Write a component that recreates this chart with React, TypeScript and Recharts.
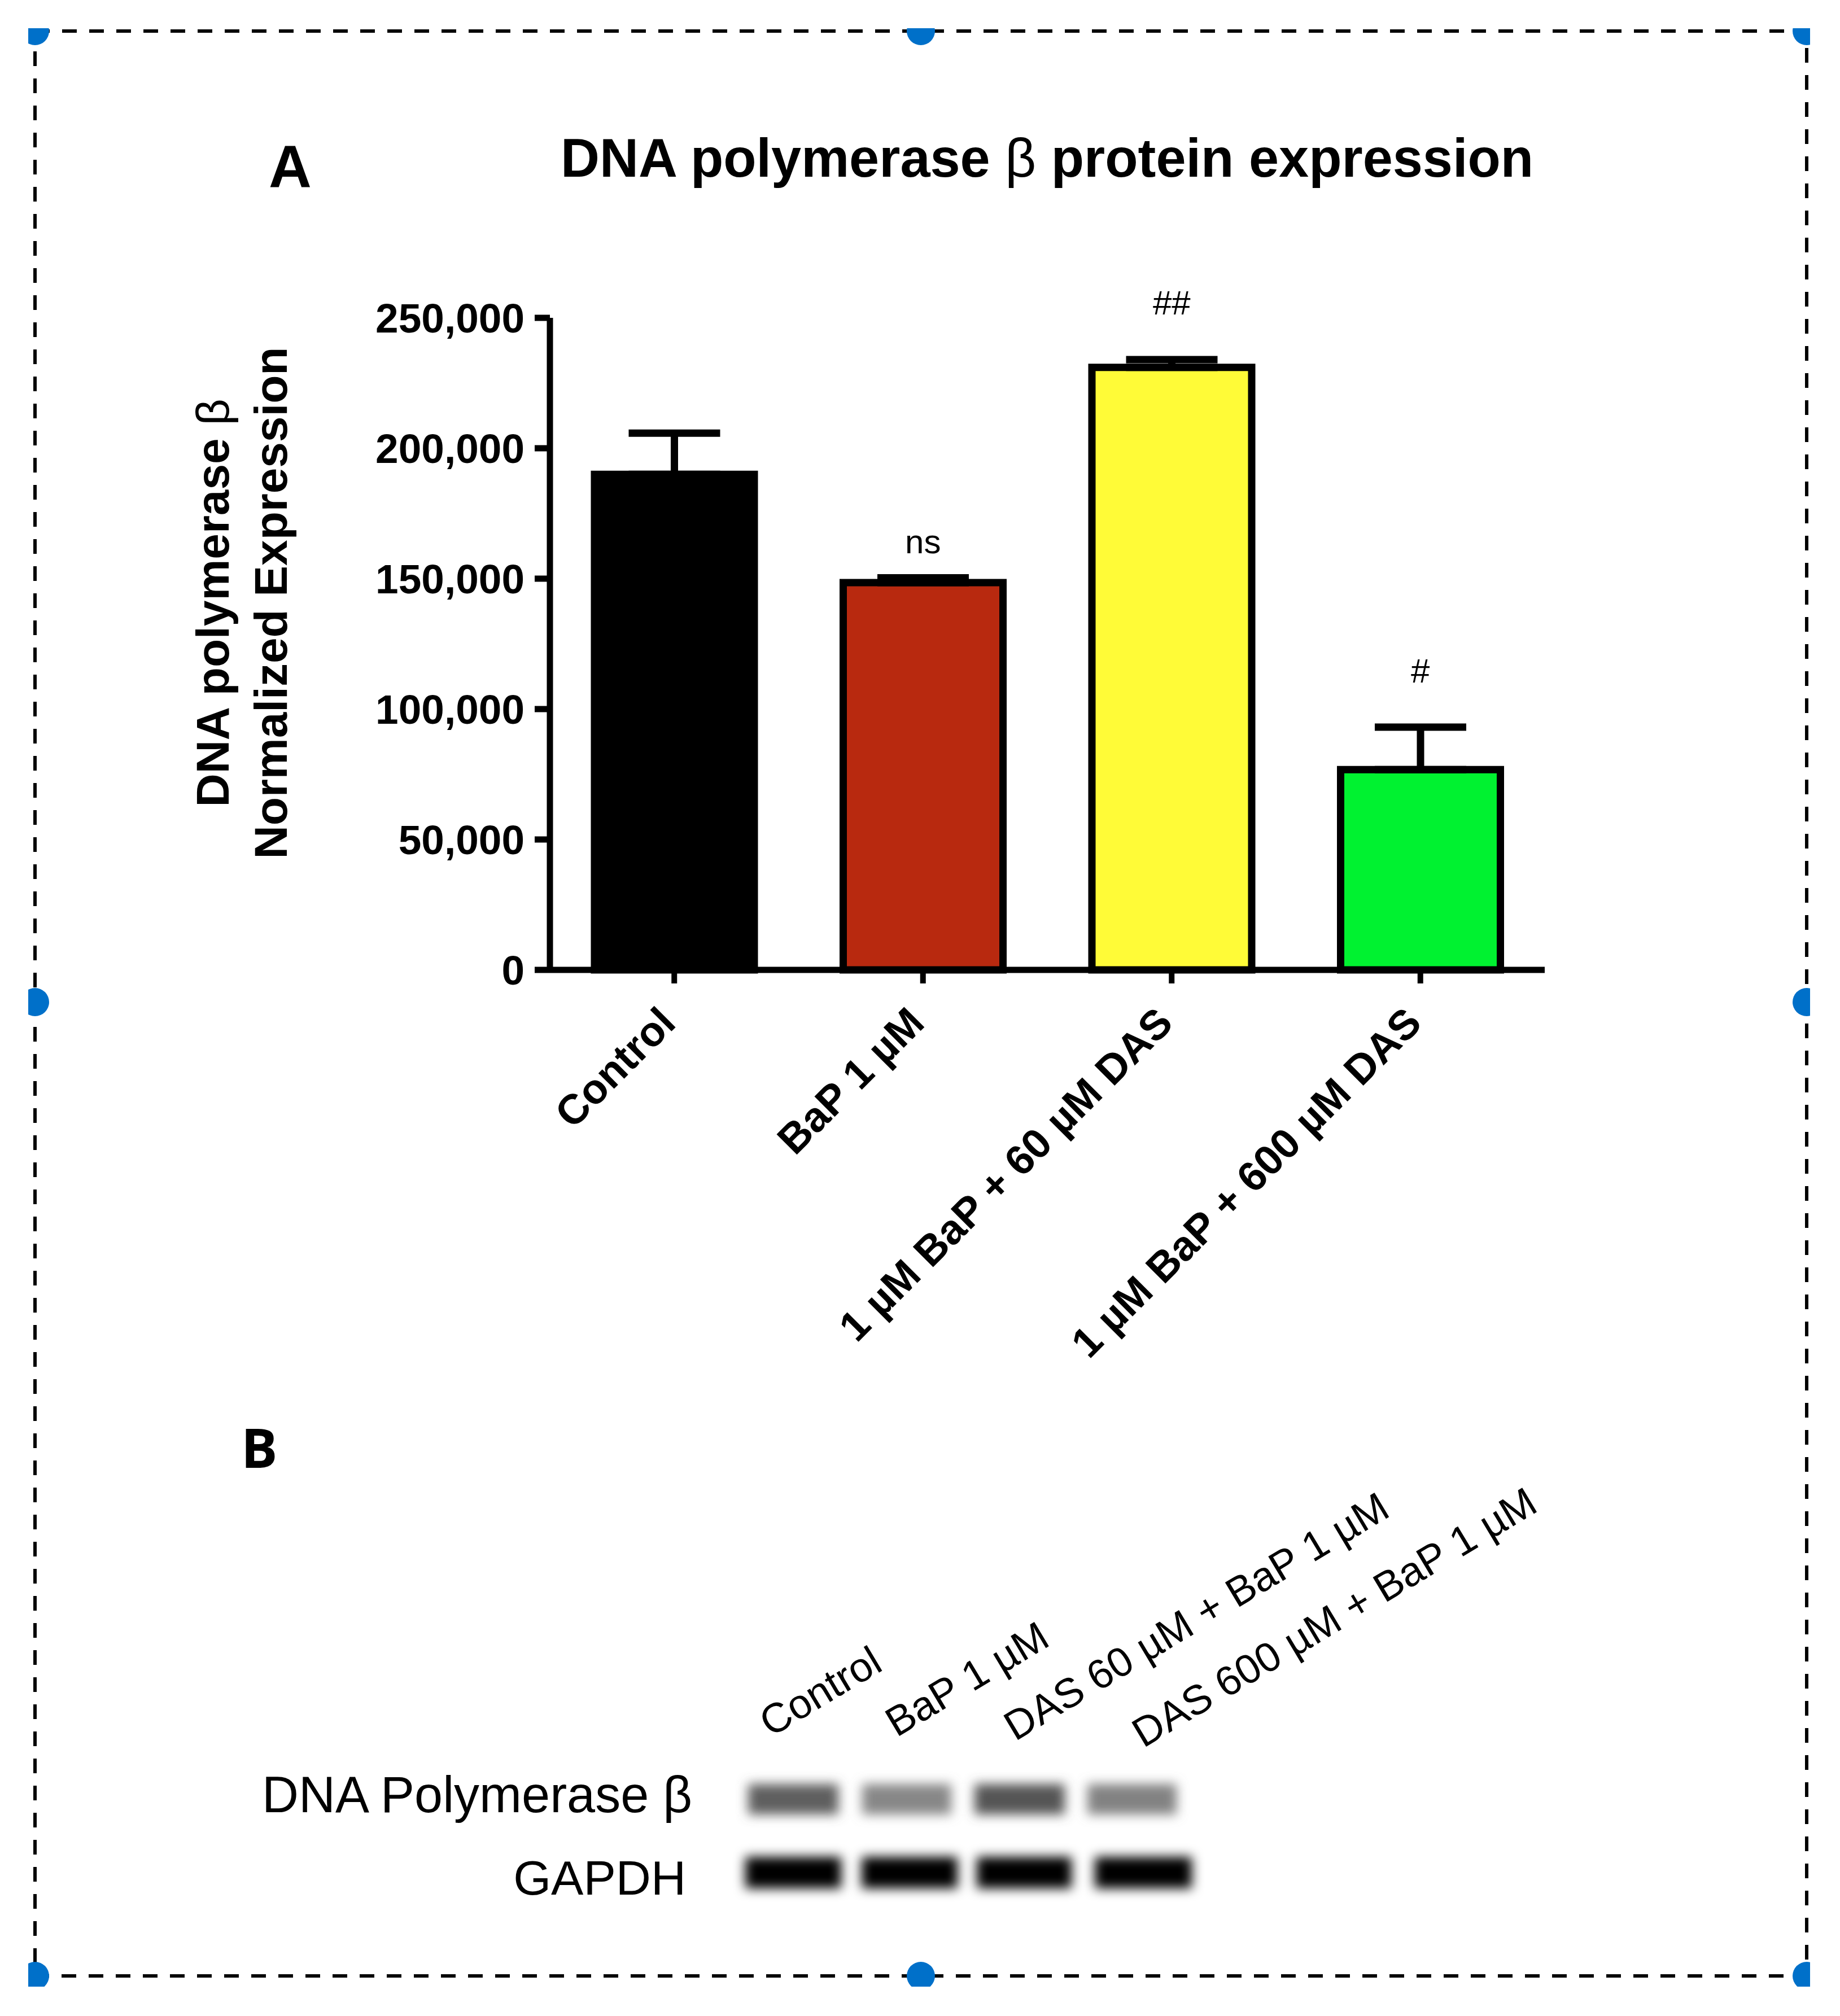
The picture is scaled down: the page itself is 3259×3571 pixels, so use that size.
import React from "react";
import {
  Bar,
  Cell,
  ComposedChart,
  ErrorBar,
  LabelList,
  Line,
  XAxis,
  YAxis,
} from "recharts";

const treatments = [
  "Control",
  "BaP 1 µM",
  "1 µM BaP + 60 µM DAS",
  "1 µM BaP + 600 µM DAS",
];
const expression = [190000, 148500, 231000, 76800];
const errorUp = [15800, 1800, 3000, 16300];
const barColors = ["#000000", "#B8290F", "#FFFB37", "#00F230"];
const significance = ["", "ns", "##", "#"];
const significanceAt = [null, 142400, 234000, 92800];
const yTicks = [0, 50000, 100000, 150000, 200000, 250000];

const blotLanes = ["Control", "BaP 1 µM", "DAS 60 µM + BaP 1 µM", "DAS 600 µM + BaP 1 µM"];
const polymeraseGrey = [95, 135, 85, 130];
const gapdhGrey = [0, 0, 0, 0];

const rows = treatments.map((name, i) => ({
  name,
  value: expression[i],
  err: [0, errorUp[i]],
  sig: significance[i],
  sigAt: significanceAt[i],
}));

const ARIAL = "'Liberation Sans', Arial, sans-serif";

const RotatedTick = ({ x, y, payload }: any) => (
  <text
    x={x + 6}
    y={y + 72}
    transform={`rotate(-45 ${x + 6} ${y + 72})`}
    textAnchor="end"
    fontFamily={ARIAL}
    fontWeight="bold"
    fontSize={74}
    fill="#000"
  >
    {payload.value}
  </text>
);

const frameHandles = [
  [62, 55],
  [1631, 55],
  [3200, 55],
  [62, 1775],
  [3200, 1775],
  [62, 3500],
  [1631, 3500],
  [3200, 3500],
];
const polymeraseSlots = [
  [1325, 160],
  [1527, 158],
  [1726, 160],
  [1926, 158],
];
const gapdhSlots = [
  [1320, 170],
  [1526, 170],
  [1730, 168],
  [1939, 172],
];
const laneStarts = [
  [1365, 3078],
  [1588, 3078],
  [1798, 3085],
  [2025, 3097],
];

const Overlay = () => (
  <svg
    width={3259}
    height={3571}
    style={{ position: "absolute", left: 0, top: 0 }}
    fontFamily={ARIAL}
  >
    <defs>
      <clipPath id="page">
        <rect x={50} y={50} width={3156} height={3469} />
      </clipPath>
      <filter id="soft" x="-20%" y="-80%" width="140%" height="260%">
        <feGaussianBlur stdDeviation="10" />
      </filter>
    </defs>
    <rect
      x={62}
      y={55}
      width={3138}
      height={3445}
      fill="none"
      stroke="#000"
      strokeWidth={6}
      strokeDasharray="26 22"
    />
    <g clipPath="url(#page)">
      {frameHandles.map(([cx, cy]) => (
        <circle key={`${cx}-${cy}`} cx={cx} cy={cy} r={25} fill="#0070C9" />
      ))}
    </g>

    <text x={476} y={332} fontSize={105} fontWeight="bold">
      A
    </text>
    <text x={993} y={313} fontSize={95.5} fontWeight="bold">
      DNA polymerase <tspan fontWeight="normal">β</tspan> protein expression
    </text>
    <g transform="translate(405 1068) rotate(-90)">
      <text x={0} y={0} textAnchor="middle" fontSize={82} fontWeight="bold">
        DNA polymerase <tspan fontWeight="normal">β</tspan>
      </text>
      <text x={0} y={103} textAnchor="middle" fontSize={82} fontWeight="bold">
        Normalized Expression
      </text>
    </g>

    <text x={427} y={2600} fontSize={96} fontWeight="bold" fontFamily="'Open Sans'">
      B
    </text>
    {blotLanes.map((lane, i) => (
      <text
        key={lane}
        x={laneStarts[i][0]}
        y={laneStarts[i][1]}
        transform={`rotate(-31 ${laneStarts[i][0]} ${laneStarts[i][1]})`}
        fontSize={73}
      >
        {lane}
      </text>
    ))}
    <text x={1226} y={3210} textAnchor="end" fontSize={90}>
      DNA Polymerase β
    </text>
    <text x={1215} y={3356} textAnchor="end" fontSize={86}>
      GAPDH
    </text>
    {polymeraseGrey.map((g, i) => (
      <rect
        key={`pol${i}`}
        x={polymeraseSlots[i][0]}
        y={3160}
        width={polymeraseSlots[i][1]}
        height={54}
        fill={`rgb(${g},${g},${g})`}
        filter="url(#soft)"
      />
    ))}
    {gapdhGrey.map((g, i) => (
      <rect
        key={`gapdh${i}`}
        x={gapdhSlots[i][0]}
        y={3289}
        width={gapdhSlots[i][1]}
        height={56}
        fill={`rgb(${g},${g},${g})`}
        filter="url(#soft)"
      />
    ))}
  </svg>
);

export default function App() {
  return (
    <div style={{ position: "absolute", left: 0, top: 0, width: 3259, height: 3571, background: "#fff" }}>
      <Overlay />
      <div style={{ position: "absolute", left: 0, top: 0 }}>
        <ComposedChart
          width={3259}
          height={3571}
          data={rows}
          margin={{ top: 563, left: 774, right: 523, bottom: 1753 }}
        >
          <XAxis
            dataKey="name"
            height={100}
            interval={0}
            tick={<RotatedTick />}
            tickSize={24}
            axisLine={{ stroke: "#000", strokeWidth: 11 }}
            tickLine={{ stroke: "#000", strokeWidth: 10 }}
          />
          <YAxis
            width={200}
            domain={[0, 250000]}
            ticks={yTicks}
            tickFormatter={(v: number) => v.toLocaleString("en-US")}
            tickSize={27}
            tickMargin={18}
            axisLine={{ stroke: "#000", strokeWidth: 11 }}
            tickLine={{ stroke: "#000", strokeWidth: 11 }}
            tick={{ fontFamily: ARIAL, fontWeight: "bold", fontSize: 73, fill: "#000" }}
          />
          <Bar
            dataKey="value"
            barSize={283}
            stroke="#000"
            strokeWidth={13}
            isAnimationActive={false}
          >
            {rows.map((r, i) => (
              <Cell key={r.name} fill={barColors[i]} />
            ))}
            <ErrorBar
              dataKey="err"
              direction="y"
              width={81}
              stroke="#000"
              strokeWidth={13}
              isAnimationActive={false}
            />
          </Bar>
          <Line
            dataKey="sigAt"
            stroke="none"
            dot={false}
            activeDot={false}
            connectNulls={false}
            legendType="none"
            isAnimationActive={false}
          >
            <LabelList
              dataKey="sig"
              position="top"
              offset={80}
              fontFamily={ARIAL}
              fontSize={60}
              fill="#000"
            />
          </Line>
        </ComposedChart>
      </div>
    </div>
  );
}
